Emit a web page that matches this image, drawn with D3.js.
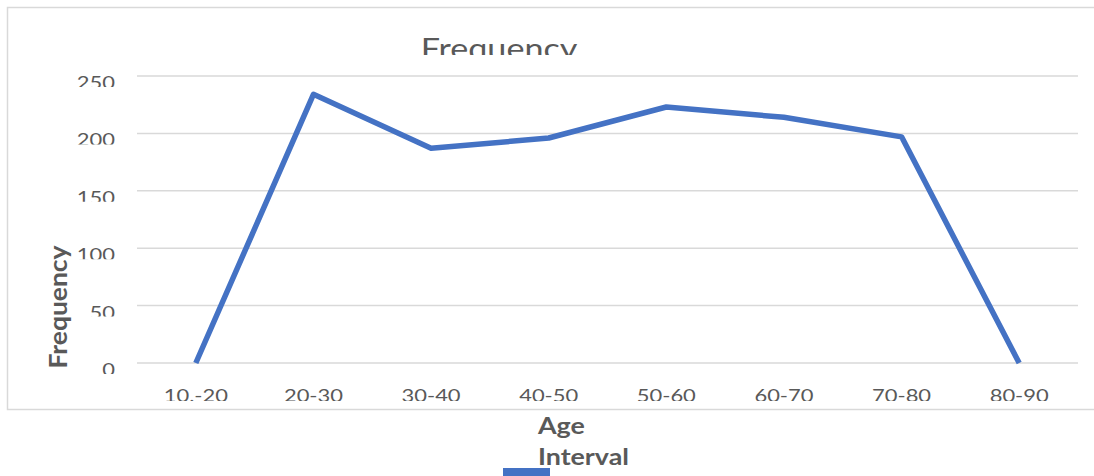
<!DOCTYPE html>
<html>
<head>
<meta charset="utf-8">
<script src="https://cdn.jsdelivr.net/npm/d3@7"></script>
<style>
  body { margin: 0; background: #fff; }
  text { font-family: Lato, "Open Sans", sans-serif; fill: #595959; }
</style>
</head>
<body>
<script>
var categories = ["10.-20", "20-30", "30-40", "40-50", "50-60", "60-70", "70-80", "80-90"];
var frequency = [0, 234, 187, 196, 223, 214, 197, 0];
var yTicks = [0, 50, 100, 150, 200, 250];

var W = 1094, H = 476;
var plotL = 137, plotR = 1078, plotT = 76, plotB = 363;
var stretch = 1.22; // the reference text is a bit wide

var svg = d3.select("body").append("svg").attr("width", W).attr("height", H);

// chart border
svg.append("rect")
    .attr("x", 7.5).attr("y", 7.5)
    .attr("width", 1100).attr("height", 402)
    .attr("fill", "none").attr("stroke", "#d9d9d9").attr("stroke-width", 1.5);

var x = d3.scaleBand().domain(categories).range([plotL, plotR]);
var y = d3.scaleLinear().domain([0, 250]).range([plotB, plotT]);

function wideText(parent, tx, ty, str, size, anchor, bold) {
    return parent.append("text")
        .attr("transform", "translate(" + tx + "," + ty + ") scale(" + stretch + ",1)")
        .attr("text-anchor", anchor)
        .attr("font-size", size)
        .attr("font-weight", bold ? "bold" : "normal")
        .text(str);
}

// gridlines
svg.append("g").selectAll("line").data(yTicks).join("line")
    .attr("x1", plotL).attr("x2", plotR)
    .attr("y1", function(d){ return y(d); }).attr("y2", function(d){ return y(d); })
    .attr("stroke", "#d9d9d9").attr("stroke-width", 1.5);

// y tick labels, bottoms cut off like the original
yTicks.forEach(function(t, i){
    var cid = "yc" + i;
    svg.append("clipPath").attr("id", cid).append("rect")
        .attr("x", 60).attr("y", y(t) - 20).attr("width", 70).attr("height", 31);
    var g = svg.append("g").attr("clip-path", "url(#" + cid + ")");
    wideText(g, 115, y(t) + 13, t, 18, "end", false);
});

// x tick labels
svg.append("clipPath").attr("id", "xc").append("rect")
    .attr("x", 0).attr("y", 370).attr("width", W).attr("height", 31);
var xg = svg.append("g").attr("clip-path", "url(#xc)");
categories.forEach(function(c){
    wideText(xg, x(c) + x.bandwidth() / 2, 402, c, 18, "middle", false);
});

// line
var line = d3.line()
    .x(function(d, i){ return x(categories[i]) + x.bandwidth() / 2; })
    .y(function(d){ return y(d); });

svg.append("path")
    .attr("d", line(frequency))
    .attr("fill", "none")
    .attr("stroke", "#4472C4")
    .attr("stroke-width", 5.5)
    .attr("stroke-linejoin", "round");

// title (clipped)
svg.append("clipPath").attr("id", "tc").append("rect")
    .attr("x", 0).attr("y", 20).attr("width", W).attr("height", 35);
var tg = svg.append("g").attr("clip-path", "url(#tc)");
wideText(tg, 499, 59, "Frequency", 28, "middle", false);

// y axis title
svg.append("text")
    .attr("transform", "translate(67,307) rotate(-90) scale(1.15,1.05)")
    .attr("text-anchor", "middle").attr("font-size", 23).attr("font-weight", "bold")
    .text("Frequency");

// x axis title
wideText(svg, 538, 434, "Age", 22, "start", true);
wideText(svg, 538, 465, "Interval", 22, "start", true);

// legend swatch
svg.append("rect")
    .attr("x", 503).attr("y", 468).attr("width", 47).attr("height", 10)
    .attr("fill", "#4472C4");
</script>
</body>
</html>
